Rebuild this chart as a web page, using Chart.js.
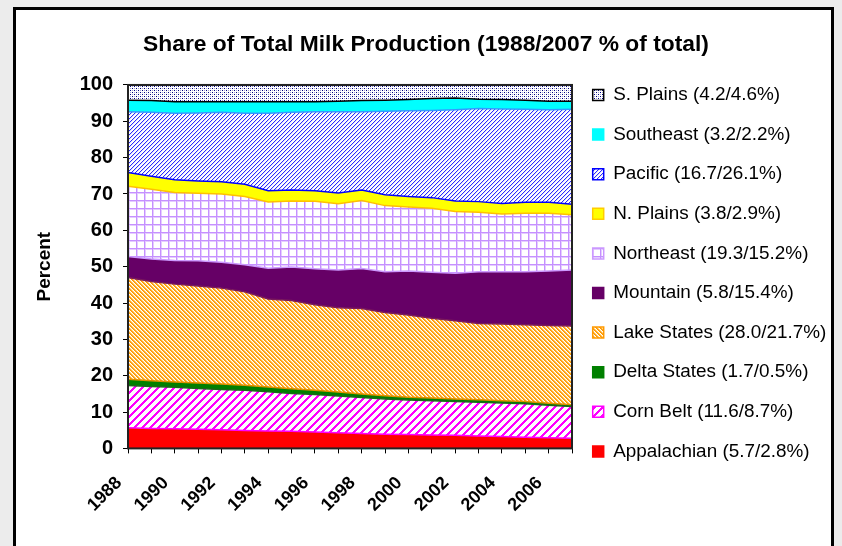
<!DOCTYPE html>
<html>
<head>
<meta charset="utf-8">
<script src="https://cdn.jsdelivr.net/npm/chart.js@4.4.1/dist/chart.umd.min.js"></script>
<style>
  html, body { margin: 0; padding: 0; background: #ececec; overflow: hidden; }
  #frame {
    position: absolute; left: 13px; top: 7px; width: 815px; height: 600px;
    border: 3px solid #000; background: #fff;
  }
  #milk { position: absolute; left: 0; top: 0; }
</style>
</head>
<body>
<div id="frame"></div>
<canvas id="milk" width="842" height="546"></canvas>
<script>
// Regional shares of US milk output, percent of total, 1988-2007
const years = ['1988', '1989', '1990', '1991', '1992', '1993', '1994', '1995', '1996', '1997',
               '1998', '1999', '2000', '2001', '2002', '2003', '2004', '2005', '2006', '2007'];

const appalachian = [5.7, 5.5, 5.4, 5.3, 5.1, 4.9, 4.8, 4.7, 4.5, 4.3, 4.1, 3.9, 3.8, 3.7, 3.6, 3.4, 3.3, 3.1, 2.9, 2.8];
const cornBelt    = [11.6, 11.5, 11.4, 11.2, 11.1, 11.1, 10.8, 10.4, 10.3, 10.1, 9.9, 9.7, 9.5, 9.4, 9.3, 9.3, 9.2, 9.2, 9.0, 8.7];
const deltaStates = [1.7, 1.6, 1.5, 1.5, 1.5, 1.4, 1.3, 1.3, 1.2, 1.1, 1.0, 0.9, 0.8, 0.8, 0.7, 0.7, 0.6, 0.6, 0.5, 0.5];
const lakeStates  = [28.0, 27.3, 26.9, 26.7, 26.4, 25.7, 24.2, 24.3, 23.5, 23.2, 23.5, 22.9, 22.6, 21.9, 21.5, 21.0, 21.1, 21.1, 21.4, 21.7];
const mountain    = [5.8, 6.2, 6.5, 6.9, 7.1, 7.4, 8.5, 9.2, 9.9, 10.4, 11.0, 11.2, 12.1, 12.7, 13.1, 14.2, 14.4, 14.6, 15.0, 15.4];
const northeast   = [19.3, 19.2, 18.7, 18.6, 18.8, 18.8, 18.2, 18.2, 18.6, 18.2, 18.7, 18.2, 17.6, 17.6, 17.0, 16.4, 15.9, 16.1, 15.9, 15.2];
const nPlains     = [3.8, 3.6, 3.5, 3.4, 3.4, 3.4, 3.1, 3.0, 2.9, 3.0, 2.9, 3.0, 2.9, 2.9, 2.9, 2.9, 2.9, 3.0, 3.0, 2.9];
const pacific     = [16.7, 17.6, 18.3, 18.7, 19.1, 19.5, 21.3, 21.4, 21.7, 22.3, 21.5, 23.0, 23.6, 24.0, 25.1, 25.6, 26.0, 25.6, 25.5, 26.1];
const southeast   = [3.2, 3.2, 3.2, 3.1, 2.9, 3.2, 3.2, 2.9, 2.8, 2.9, 3.1, 3.0, 3.1, 3.3, 3.2, 2.6, 2.6, 2.5, 2.3, 2.2];
const sPlains     = [4.2, 4.3, 4.6, 4.6, 4.6, 4.6, 4.6, 4.6, 4.6, 4.5, 4.3, 4.2, 4.0, 3.7, 3.6, 3.9, 4.0, 4.2, 4.5, 4.6];

const regions = ['Appalachian', 'Corn Belt', 'Delta States', 'Lake States', 'Mountain',
                 'Northeast', 'N. Plains', 'Pacific', 'Southeast', 'S. Plains'];
const series = [appalachian, cornBelt, deltaStates, lakeStates, mountain,
                northeast, nPlains, pacific, southeast, sPlains];

// small repeating tiles for the hatched fills
function tile(size, paint) {
  const c = document.createElement('canvas');
  c.width = c.height = size;
  const g = c.getContext('2d');
  g.fillStyle = '#fff';
  g.fillRect(0, 0, size, size);
  paint(g, size);
  return g.createPattern(c, 'repeat');
}
function px(g, x, y, color) { g.fillStyle = color; g.fillRect(x, y, 1, 1); }

const dots = tile(4, g => {
  px(g, 0, 0, '#000080'); px(g, 2, 2, '#000080');
  px(g, 2, 0, '#a0a0d0'); px(g, 0, 2, '#a0a0d0');
});
const blueHatch = tile(4, g => {
  for (let i = 0; i < 4; i++) { px(g, 3 - i, i, '#2a2aff'); px(g, (4 - i) % 4, i, '#dcdcff'); }
});
const orangeHatch = tile(4, g => {
  for (let i = 0; i < 4; i++) {
    px(g, i, i, '#ff9900'); px(g, (i + 1) % 4, i, '#ffa820'); px(g, (i + 2) % 4, i, '#ffdc9c');
  }
});
const magentaHatch = tile(8, (g, n) => {
  for (let y = 0; y < n; y++) for (let x = 0; x < n; x++) if ((x + y) % n < 3) px(g, x, y, '#ff00ff');
});
const lavenderGrid = tile(8, g => {
  g.fillStyle = '#e4ccff'; g.fillRect(1, 0, 1, 8); g.fillRect(0, 1, 8, 1);
  g.fillStyle = '#c590ff'; g.fillRect(0, 0, 1, 8); g.fillRect(0, 0, 8, 1);
});

const fills    = ['#ff0000', magentaHatch, '#008000', orangeHatch, '#660066',
                  lavenderGrid, '#ffff00', blueHatch, '#00ffff', dots];
const edges    = ['#ff00ff', '#1a6a1a', '#e09000', '#7a1a5a', '#cc99ff',
                  '#ffc000', '#0000ff', '#3399ff', '#000000', '#000000'];
const outlines = ['#ff0000', '#ff00ff', '#008000', '#ff9900', '#660066',
                  '#cc99ff', '#ffcc00', '#0000ff', '#00ffff', '#000000'];

const datasets = regions.map((name, i) => {
  const v = series[i];
  return {
    label: `${name} (${v[0].toFixed(1)}/${v[v.length - 1].toFixed(1)}%)`,
    data: v,
    backgroundColor: fills[i],
    borderColor: edges[i],
    borderWidth: 1.5,
    fill: i === 0 ? 'origin' : '-1',
    pointRadius: 0,
    tension: 0
  };
});

Chart.defaults.font.family = '"Liberation Sans", Arial, sans-serif';
Chart.defaults.color = '#000';

// dark outline round the plotting area
const plotFrame = {
  id: 'plotFrame',
  afterDatasetsDraw(chart) {
    const a = chart.chartArea, ctx = chart.ctx;
    ctx.save();
    ctx.strokeStyle = '#222';
    ctx.lineWidth = 2;
    ctx.strokeRect(a.left, a.top, a.right - a.left, a.bottom - a.top);
    ctx.restore();
  }
};

new Chart(document.getElementById('milk'), {
  type: 'line',
  data: { labels: years, datasets: datasets },
  options: {
    responsive: false,
    animation: false,
    layout: { padding: { left: 20, right: 10, top: 20, bottom: 19.6 } },
    plugins: {
      title: {
        display: true,
        text: 'Share of Total Milk Production (1988/2007 % of total)',
        font: { size: 22.8, weight: 'bold' },
        padding: { top: 10.8, bottom: 26.8 }
      },
      legend: {
        position: 'right',
        reverse: true,
        maxWidth: 260,
        labels: {
          font: { size: 18.9 },
          boxWidth: 11,
          boxHeight: 11,
          padding: 20.7,
          generateLabels(chart) {
            const items = Chart.defaults.plugins.legend.labels.generateLabels(chart);
            items.forEach(it => { it.strokeStyle = outlines[it.datasetIndex]; it.lineWidth = 1.5; });
            return items;
          }
        }
      },
      tooltip: { enabled: false }
    },
    scales: {
      x: {
        afterFit(axis) { axis.height = 78; },
        grid: { display: true, drawOnChartArea: false, drawTicks: true, tickLength: 5, color: '#000', tickColor: '#000' },
        border: { display: true, color: '#000', width: 2 },
        ticks: {
          autoSkip: false,
          minRotation: 45,
          maxRotation: 45,
          padding: 19,
          labelOffset: -9,
          font: { size: 18, weight: 'bold' },
          callback(value, index) { return index % 2 === 0 ? this.getLabelForValue(value) : ''; }
        }
      },
      y: {
        stacked: true,
        min: 0,
        max: 100,
        afterFit(axis) { axis.width = 108; },
        grid: { display: true, drawOnChartArea: false, drawTicks: true, tickLength: 5, color: '#000', tickColor: '#000' },
        border: { display: true, color: '#000', width: 2 },
        ticks: { stepSize: 10, padding: 10, font: { size: 20, weight: 'bold' } },
        title: {
          display: true,
          text: 'Percent',
          font: { size: 19, weight: 'bold' },
          padding: { top: 13, bottom: 0 }
        }
      }
    }
  },
  plugins: [plotFrame]
});
</script>
</body>
</html>
